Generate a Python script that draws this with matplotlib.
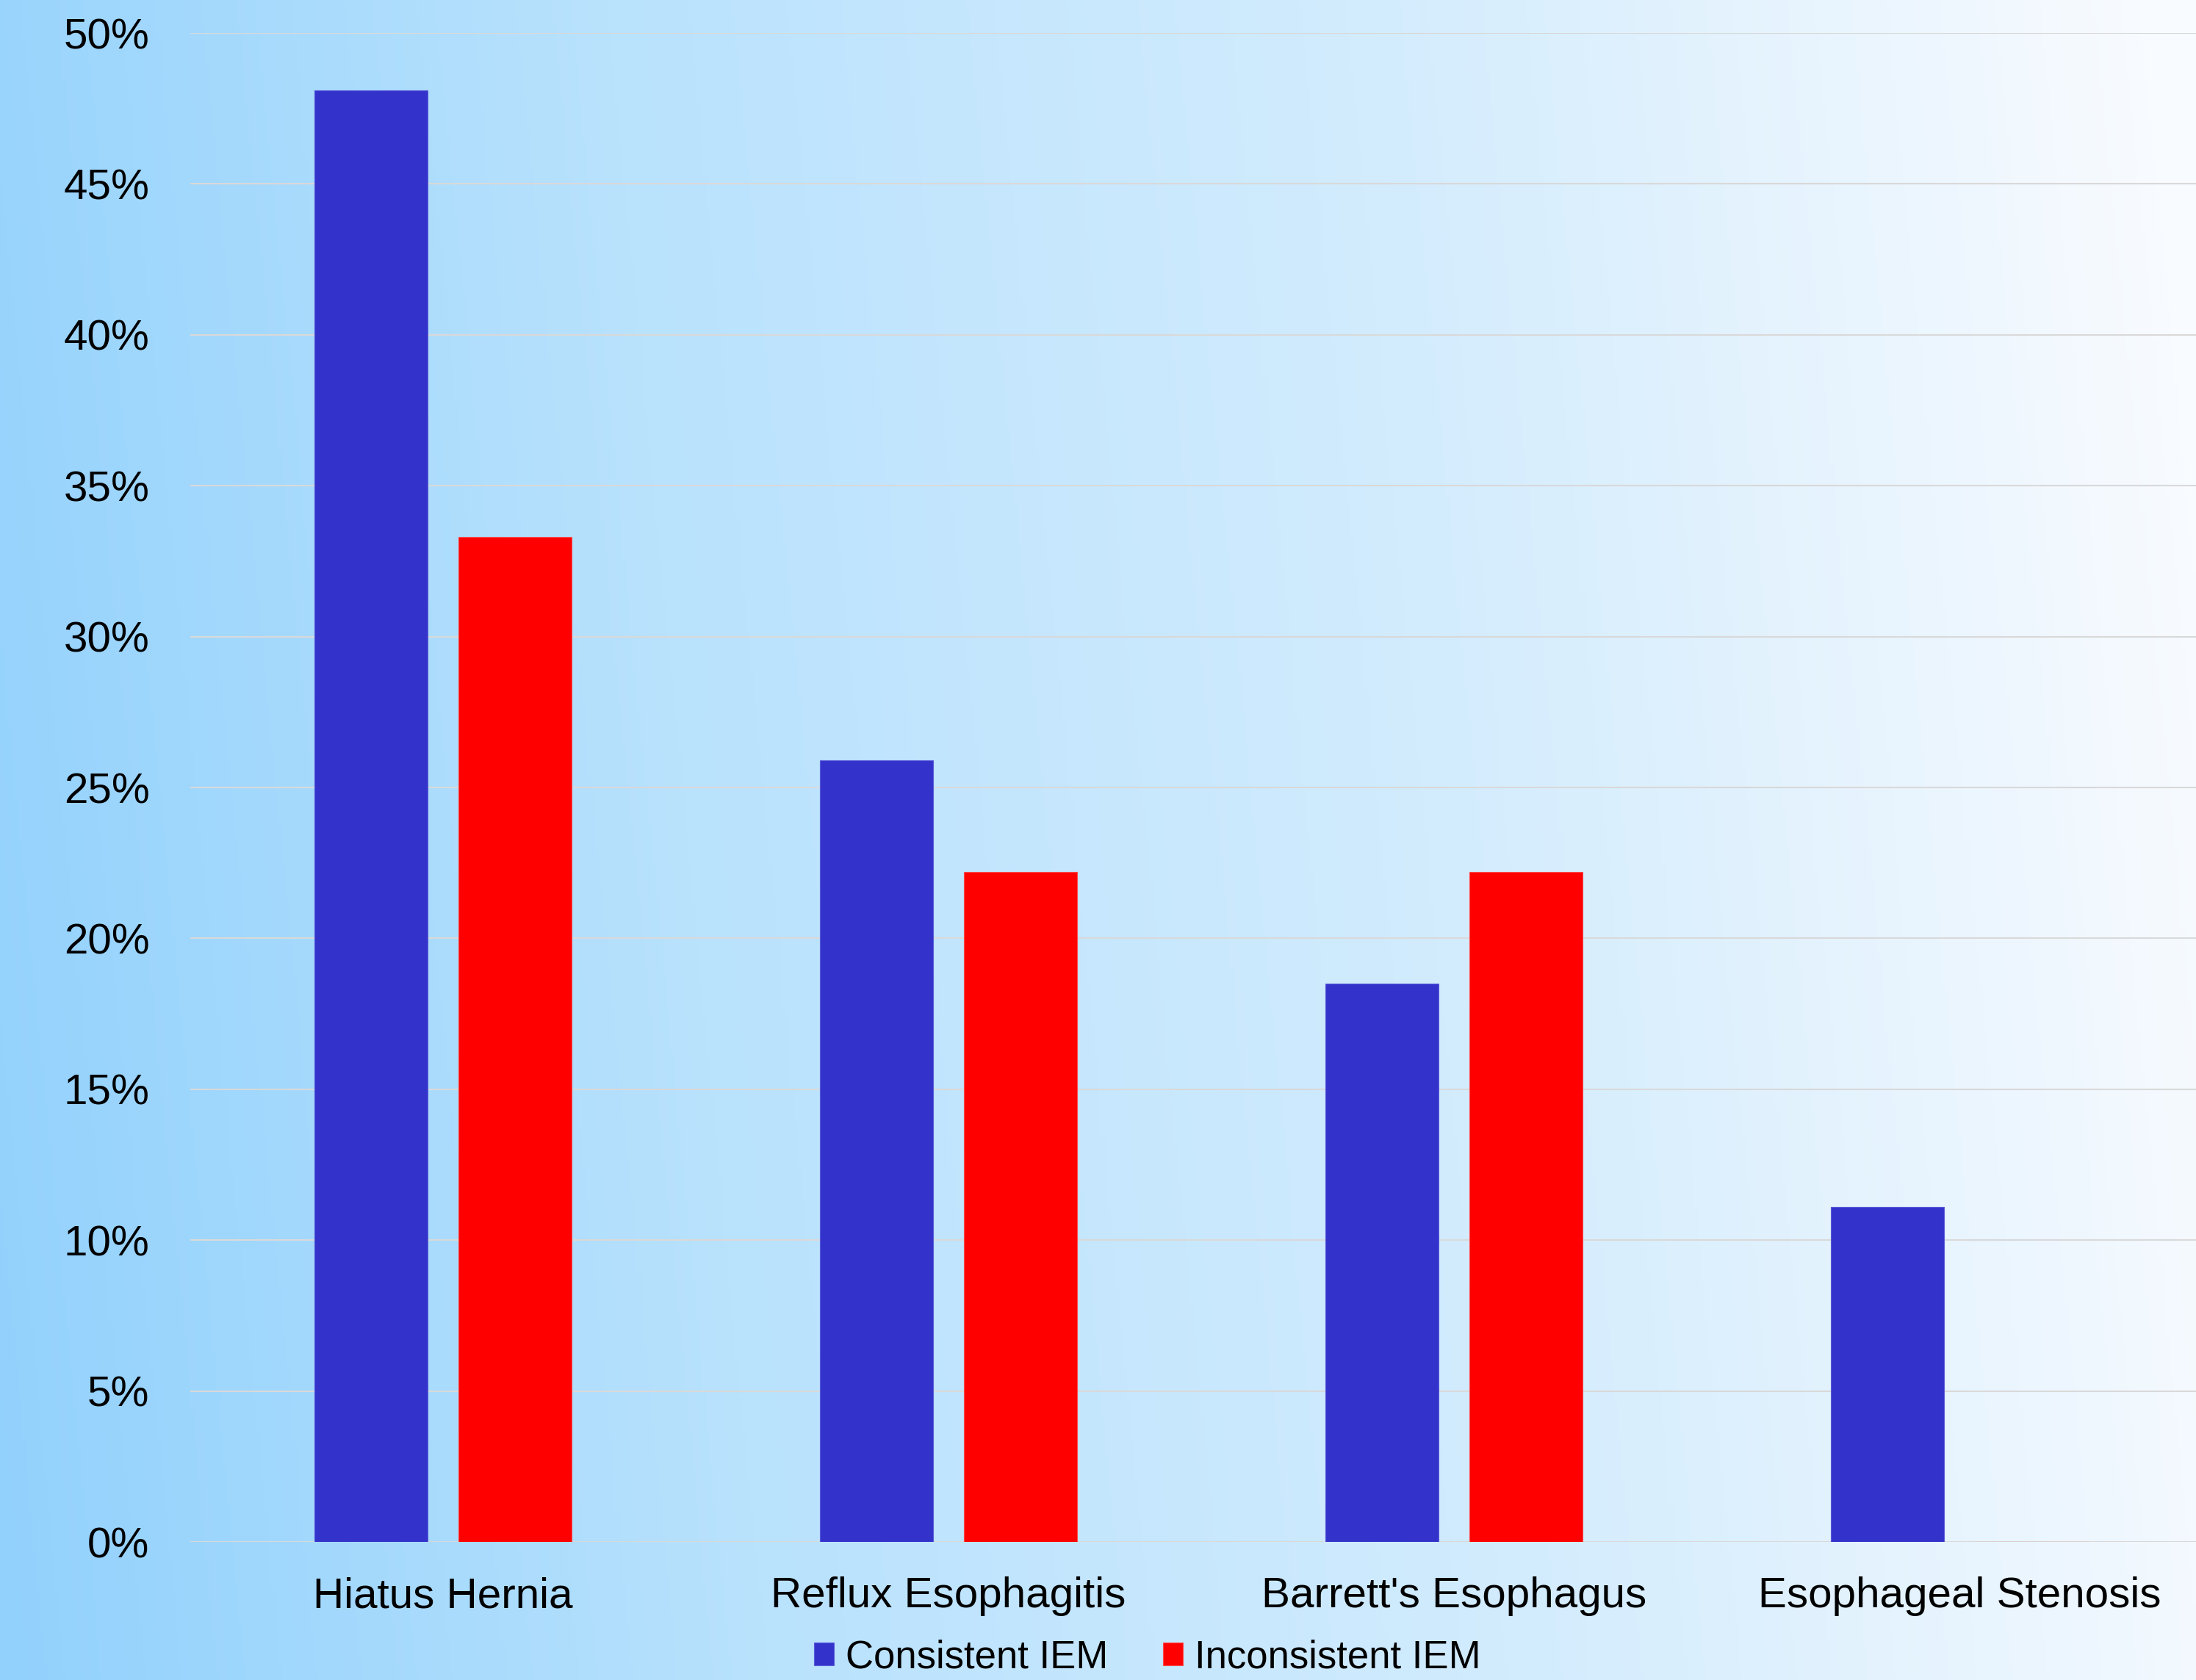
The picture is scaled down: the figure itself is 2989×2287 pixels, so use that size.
import numpy as np
import matplotlib.pyplot as plt
from matplotlib.colors import LinearSegmentedColormap
from matplotlib.ticker import FuncFormatter

categories = ["Hiatus Hernia", "Reflux Esophagitis", "Barrett's Esophagus", "Esophageal Stenosis"]
consistent = [48.1, 25.9, 18.5, 11.1]
inconsistent = [33.3, 22.2, 22.2, 0.0]
series_names = ["Consistent IEM", "Inconsistent IEM"]
y_ticks = [0, 5, 10, 15, 20, 25, 30, 35, 40, 45, 50]

plt.rcParams['font.family'] = ['Liberation Sans', 'DejaVu Sans']

fig = plt.figure(figsize=(29.89, 22.87), dpi=100)

# gradient background (light blue on the left fading to white on the right)
bg = fig.add_axes([0, 0, 1, 1], zorder=-10)
W, H = 600, 460
xx, yy = np.meshgrid(np.linspace(0, 1, W), np.linspace(0, 1, H))
t = np.clip(xx * 0.95 + 0.07 * (1 - yy), 0, 1)
cmap = LinearSegmentedColormap.from_list("bg", ["#92d1fc", "#b9e2fd", "#d3ecfd", "#f8fbff"])
bg.imshow(t, cmap=cmap, aspect='auto', extent=[0, 1, 0, 1], origin='upper', vmin=0, vmax=1)
bg.axis('off')

ax = fig.add_axes([0.0867, 0.0822, 0.9133, 0.8981])
ax.set_facecolor('none')

x = np.arange(len(categories))
w = 0.224
off = 0.1425
ax.bar(x - off, consistent, w, color='#3333cc', edgecolor='#5a5ad8', linewidth=0.8, label=series_names[0], zorder=3)
ax.bar(x + off, inconsistent, w, color='#ff0000', edgecolor='#ff4a4a', linewidth=0.8, label=series_names[1], zorder=3)

ax.set_xlim(-0.5, 3.468)
ax.set_ylim(0, 50)
ax.set_yticks(y_ticks)
ax.yaxis.set_major_formatter(FuncFormatter(lambda v, p: f"{v:.0f}%"))
ax.set_xticks(x)
ax.set_xticklabels(categories)
ax.tick_params(axis='both', length=0, labelsize=42, colors='black')
ax.tick_params(axis='y', pad=40)
ax.tick_params(axis='x', pad=34)
ax.grid(axis='y', color='#d9d9d9', linewidth=1.5, zorder=0)
ax.set_axisbelow(True)
for s in ax.spines.values():
    s.set_visible(False)

fig.legend(loc='center', bbox_to_anchor=(0.5225, 0.0135), ncol=2, frameon=False,
           fontsize=38, handlelength=0.52, handleheight=0.52, handletextpad=0.3,
           columnspacing=1.4)

fig.savefig('out.png', dpi=100)
